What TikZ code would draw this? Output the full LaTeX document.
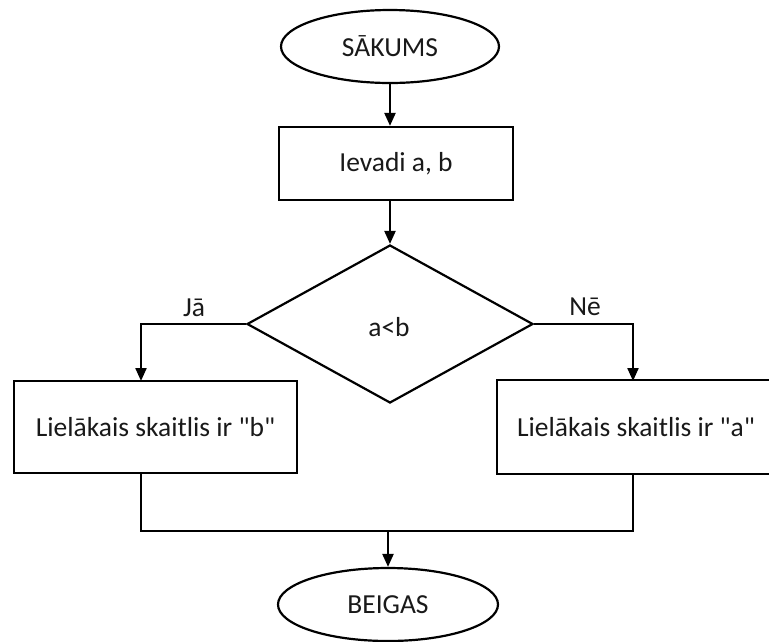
\documentclass[tikz,border=0pt]{standalone}
\usepackage{fontspec}
\setmainfont{Carlito}[Ligatures=TeXOff]
\usetikzlibrary{shapes.geometric,arrows.meta}
\tikzset{
  base/.style={draw=black, line width=2.2pt, inner sep=0pt, font=\fontsize{27.5}{33}\selectfont, text=black!90},
  term/.style={base, ellipse, minimum width=218pt, minimum height=73pt},
  procbox/.style={base, rectangle, minimum height=73pt},
  decbox/.style={base, diamond, minimum width=286pt, minimum height=158pt},
  line/.style={line width=2.2pt, line join=miter},
  arr/.style={line, -{Triangle[width=11pt,length=13pt]}},
  lbl/.style={font=\fontsize{27.5}{33}\selectfont, text=black!90, inner sep=0pt}
}
\begin{document}
\begin{tikzpicture}[x=1pt,y=-1pt]
\useasboundingbox (0,0) rectangle (769,641);
\clip (0,0) rectangle (769,641);
\node[term] (start) at (390,46.5) {SĀKUMS};
\node[procbox, minimum width=234pt] (input) at (396,163.5) {Ievadi a, b};
\node[decbox] (dec) at (390,324) {};
\node[lbl] (cond) at (389,327) {a<b};
\node[procbox, minimum width=283pt, minimum height=92pt] (lb) at (155.5,427) {Lielākais skaitlis ir "b"};
\node[procbox, draw=none, minimum width=300pt, minimum height=92pt, anchor=west] (rb) at (497,427) {};
\draw[line] (rb.north east) -- (rb.north west) -- (rb.south west) -- (rb.south east);
\node[lbl] (rbt) at (636,427) {Lielākais skaitlis ir "a"};
\node[term, minimum width=220pt] (end) at (388,604.5) {BEIGAS};

\coordinate (ltop) at (141,381);
\coordinate (rtop) at (633,381);
\coordinate (lx) at (141,531);
\coordinate (rx) at (633,531);

\draw[arr] (start.south) -- (start.south |- input.north);
\draw[arr] (dec.north |- input.south) -- (dec.north);
\draw[arr] (dec.west) -| (ltop);
\draw[arr] (dec.east) -| (rtop);
\draw[line] (lb.south -| lx) -- (lx) -- (rx) -- (rb.south -| rx);
\draw[arr] (end.north |- lx) -- (end.north);

\node[lbl] (yes) at (194,308) {Jā};
\node[lbl] (no) at (585,307) {Nē};
\end{tikzpicture}
\end{document}
